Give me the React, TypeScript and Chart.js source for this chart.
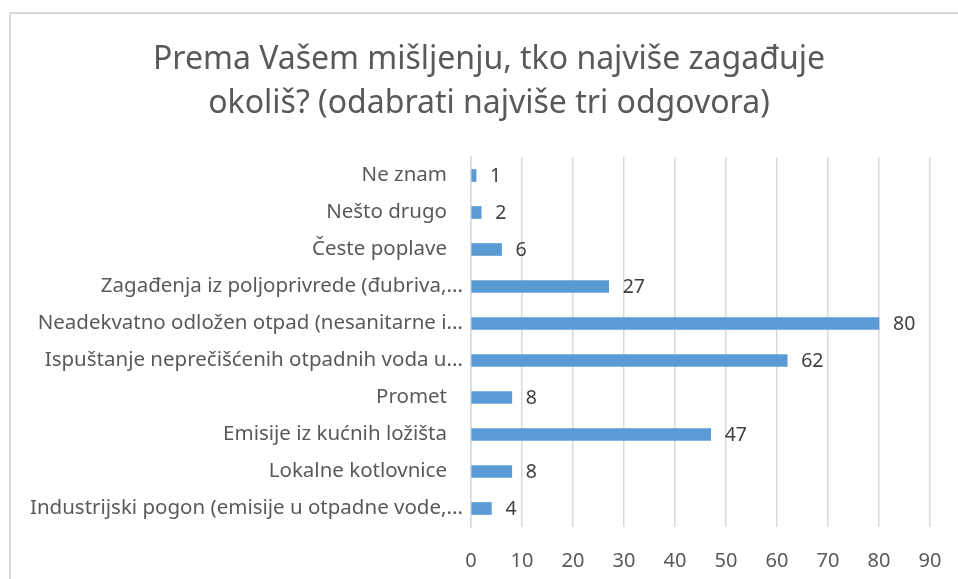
import React, { useEffect, useRef } from "react";
import { Chart, registerables } from "chart.js";

Chart.register(...registerables);

const titleLines = [
  "Prema Vašem mišljenju, tko najviše zagađuje",
  "okoliš? (odabrati najviše tri odgovora)",
];

const categories = [
  "Ne znam",
  "Nešto drugo",
  "Česte poplave",
  "Zagađenja iz poljoprivrede (đubriva,...",
  "Neadekvatno odložen otpad (nesanitarne i...",
  "Ispuštanje neprečišćenih otpadnih voda u...",
  "Promet",
  "Emisije iz kućnih ložišta",
  "Lokalne kotlovnice",
  "Industrijski pogon (emisije u otpadne vode,...",
];

const values = [1, 2, 6, 27, 80, 62, 8, 47, 8, 4];

const xMin = 0;
const xMax = 90;
const xStep = 10;

const FONT = "'Noto Sans', 'Open Sans', sans-serif";
const CANVAS_W = 978;
const CANVAS_H = 579;

const valueLabels = {
  id: "valueLabels",
  afterDatasetsDraw(chart: any) {
    const ctx = chart.ctx;
    const meta = chart.getDatasetMeta(0);
    ctx.save();
    ctx.font = `19.5px ${FONT}`;
    ctx.fillStyle = "#404040";
    ctx.textAlign = "left";
    ctx.textBaseline = "middle";
    meta.data.forEach((bar: any, i: number) => {
      ctx.fillText(String(values[i]), bar.x + 14, bar.y + 1);
    });
    ctx.restore();
  },
};

export default function App() {
  const ref = useRef<HTMLCanvasElement | null>(null);

  useEffect(() => {
    if (!ref.current) return;
    const chart = new Chart(ref.current, {
      type: "bar",
      data: {
        labels: categories,
        datasets: [
          {
            data: values,
            backgroundColor: "#5B9BD5",
            borderWidth: 0,
            barThickness: 12,
          },
        ],
      },
      options: {
        indexAxis: "y",
        animation: false,
        responsive: false,
        maintainAspectRatio: false,
        layout: { padding: 0 },
        plugins: {
          legend: { display: false },
          tooltip: { enabled: false },
          title: {
            display: true,
            text: titleLines,
            color: "#595959",
            font: { family: FONT, size: 32, weight: "normal", lineHeight: 1.375 },
            padding: { top: 38, bottom: 31 },
          },
        },
        scales: {
          x: {
            min: xMin,
            max: xMax,
            ticks: {
              stepSize: xStep,
              color: "#595959",
              font: { family: FONT, size: 20 },
              padding: 22,
            },
            grid: { color: "#d9d9d9", lineWidth: 1.5, drawTicks: false },
            border: { display: false },
            afterFit: (s: any) => {
              s.height = 52;
              s.paddingLeft = 0;
              s.paddingRight = 48;
            },
          },
          y: {
            ticks: {
              color: "#595959",
              font: { family: FONT, size: 20.5 },
              padding: 8,
              autoSkip: false,
              callback: (_v: any, i: number) => {
                const l = categories[i];
                return l.endsWith("...") ? l : l + "   ";
              },
            },
            grid: { display: false, drawTicks: false },
            border: { display: true, color: "#d9d9d9", width: 1.5 },
            afterFit: (s: any) => {
              s.width = 471;
            },
          },
        },
      },
      plugins: [valueLabels],
    });
    return () => chart.destroy();
  }, []);

  return (
    <div
      style={{
        position: "fixed",
        left: 0,
        top: 0,
        width: 958,
        height: 579,
        overflow: "hidden",
        background: "#fff",
      }}
    >
      <canvas
        ref={ref}
        width={CANVAS_W}
        height={CANVAS_H}
        style={{ position: "absolute", left: 0, top: 0, width: CANVAS_W, height: CANVAS_H }}
      />
      <div
        style={{
          position: "absolute",
          left: 9,
          top: 12,
          width: 2000,
          height: 2000,
          borderLeft: "2px solid #d9d9d9",
          borderTop: "2px solid #d9d9d9",
          pointerEvents: "none",
        }}
      />
    </div>
  );
}
